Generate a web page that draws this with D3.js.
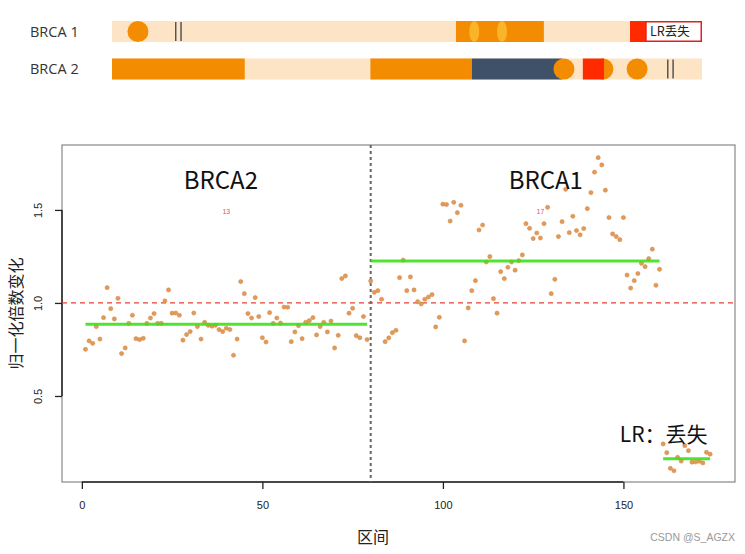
<!DOCTYPE html>
<html><head><meta charset="utf-8">
<script src="https://cdn.jsdelivr.net/npm/d3@7/dist/d3.min.js"></script>
<style>body{margin:0;background:#fff}svg{display:block}</style>
</head><body>
<svg id="c" width="745" height="554"></svg>
<script>
// ---- data ----
const brca2Vals = [0.751,0.796,0.783,0.873,0.806,0.921,1.082,0.969,0.914,1.025,0.728,0.758,0.89,0.934,0.808,0.803,0.81,0.89,0.919,0.943,0.89,0.89,1.011,1.07,0.945,0.946,0.934,0.80,0.83,0.846,0.946,0.873,0.806,0.896,0.88,0.875,0.88,0.857,0.846,0.864,0.857,0.719,0.806,1.115,1.05,0.943,0.919,1.029,0.927,0.813,0.79,0.948,0.89,0.919,0.892,0.978,0.977,0.792,0.844,0.878,0.808,0.896,0.905,0.921,0.828,0.873,0.896,0.844,0.903,0.758,0.826,1.131,1.145,0.945,0.971,0.824,0.813,0.927,0.803];
const brca1Vals = [1.118,1.057,1.066,1.02,0.792,0.812,0.84,0.853,1.136,1.23,1.066,1.14,1.07,1.007,0.995,1.02,1.032,1.045,0.871,0.923,1.531,1.529,1.44,1.541,1.485,1.525,0.796,0.973,1.066,1.12,1.392,1.419,1.22,1.249,1.023,0.945,1.168,1.131,1.192,1.22,1.176,1.227,1.258,1.426,1.401,1.346,1.376,1.349,1.426,1.514,1.05,1.127,1.357,1.437,1.611,1.378,1.466,1.389,1.366,1.4,1.507,1.593,1.703,1.781,1.742,1.606,1.459,1.371,1.357,1.34,1.459,1.15,1.08,1.12,1.158,1.213,1.195,1.238,1.289,1.095,1.181];
const lrVals = [0.242,0.195,0.111,0.098,0.17,0.15,0.233,0.206,0.144,0.145,0.149,0.14,0.197,0.187];
const segStart = [1, 80, 161];
const segEnd = [79, 160, 174];
const segMean = [0.885, 1.225, 0.163];
const regionLabels = ["BRCA2", "BRCA1", "LR：丢失"];
const regionLabelPos = [[38.5, 1.615], [128.5, 1.615], [149, 0.25]];
const smallLabels = ["13", "17"];
const smallLabelPos = [[40, 1.49], [127, 1.49]];
const xTicks = [0, 50, 100, 150];
const yTicks = [0.5, 1.0, 1.5];
const boundary = 80;
const refLine = 1.0;

// top diagram data (gene coordinates 0..100 along the bar)
const geneNames = ["BRCA 1", "BRCA 2"];
const geneRects = [
  [ {a:0,b:100,t:"bg"}, {a:58.3,b:73.2,t:"orange"}, {a:87.8,b:90.5,t:"red"} ],
  [ {a:0,b:100,t:"bg"}, {a:0,b:22.5,t:"orange"}, {a:43.8,b:61.0,t:"orange"}, {a:61.0,b:76.3,t:"slate"} ]
];
const geneDots = [
  [ {c:4.4,t:"orange"}, {c:61.4,t:"light",narrow:true}, {c:66.1,t:"light",narrow:true} ],
  [ {c:76.6,t:"orange"}, {c:83.2,t:"orange"}, {c:89.0,t:"orange"} ]
];
const geneRectsTop = [ [], [ {a:79.8,b:83.4,t:"red"} ] ];
const geneBars = [ [10.8, 11.7], [94.2, 95.1] ];
const lossBox = {a:90.5, b:100, text:"LR丢失"};

// ---- drawing ----
const svg = d3.select("#c");
const col = {bg:"#fde4c5", orange:"#f38c00", light:"#fbb42a", red:"#ff2a00", slate:"#3f5069"};

// top diagram
const gx = d3.scaleLinear().domain([0,100]).range([112, 702]);
const rowY = [21, 58.5];
const rowH = 21;
geneNames.forEach((nm, r) => {
  const y0 = rowY[r];
  svg.append("text").attr("x", 30).attr("y", y0 + rowH/2).attr("dy","0.35em")
    .attr("font-family","'Open Sans','Noto Sans',sans-serif").attr("font-size",14.5)
    .attr("fill","#333").text(nm);
  geneRects[r].forEach(d => svg.append("rect").attr("x", gx(d.a)).attr("y", y0)
    .attr("width", gx(d.b)-gx(d.a)).attr("height", rowH).attr("fill", col[d.t]));
  geneDots[r].forEach(d => svg.append("ellipse").attr("cx", gx(d.c)).attr("cy", y0+rowH/2)
    .attr("rx", d.narrow ? 5 : 10.5).attr("ry", rowH/2).attr("fill", col[d.t]));
  geneRectsTop[r].forEach(d => svg.append("rect").attr("x", gx(d.a)).attr("y", y0)
    .attr("width", gx(d.b)-gx(d.a)).attr("height", rowH).attr("fill", col[d.t]));
  geneBars[r].forEach(p => svg.append("line").attr("x1", gx(p)).attr("x2", gx(p))
    .attr("y1", y0+1).attr("y2", y0+rowH-1).attr("stroke","#555").attr("stroke-width",1.5));
  if (r === 0) {
    svg.append("rect").attr("x", gx(lossBox.a)).attr("y", y0+0.75)
      .attr("width", gx(lossBox.b)-gx(lossBox.a)-0.75).attr("height", rowH-1.5)
      .attr("fill","#fff").attr("stroke","#e0201a").attr("stroke-width",1.5);
    svg.append("text").attr("x", gx(lossBox.a)+4).attr("y", y0+rowH/2).attr("dy","0.36em")
      .attr("font-family","'Noto Sans CJK SC',sans-serif").attr("font-size",12.5)
      .attr("fill","#222").text(lossBox.text);
  }
});

// scatter
const L = 62, R = 735, T = 145, B = 482;
const x = d3.scaleLinear().domain([-5.5, 180.9]).range([L, R]);
const y = d3.scaleLinear().domain([0.0376, 1.849]).range([B, T]);

svg.append("rect").attr("x", L).attr("y", T).attr("width", R-L).attr("height", B-T)
  .attr("fill","none").attr("stroke","#888").attr("stroke-width",1.2);

// axes
const xAxis = d3.axisBottom(x).tickValues(xTicks).tickSize(7).tickFormat(d3.format("d"));
const gxA = svg.append("g").attr("transform", `translate(0,${B})`).call(xAxis);
gxA.select(".domain").attr("d", `M${x(xTicks[0])},0H${x(xTicks[xTicks.length-1])}`)
  .attr("stroke","#222").attr("stroke-width",1.5);
gxA.selectAll(".tick line").attr("stroke","#222").attr("stroke-width",1.3);
gxA.selectAll(".tick text").attr("y", 19).attr("font-size",11)
  .attr("font-family","'Liberation Sans',Arial,sans-serif").attr("fill","#222");

const yAxis = d3.axisLeft(y).tickValues(yTicks).tickSize(7).tickFormat(d3.format(".1f"));
const gyA = svg.append("g").attr("transform", `translate(${L},0)`).call(yAxis);
gyA.select(".domain").attr("d", `M0,${y(yTicks[0])}V${y(yTicks[yTicks.length-1])}`)
  .attr("stroke","#222").attr("stroke-width",1.5);
gyA.selectAll(".tick line").attr("stroke","#222").attr("stroke-width",1.3);
gyA.selectAll(".tick text").attr("x", null).attr("dy", null)
  .attr("text-anchor","middle").attr("transform","translate(-20,0) rotate(-90)")
  .attr("font-size",11).attr("font-family","'Liberation Sans',Arial,sans-serif").attr("fill","#222");

// reference line
svg.append("line").attr("x1", L).attr("x2", R).attr("y1", y(refLine)).attr("y2", y(refLine))
  .attr("stroke","#e8413a").attr("stroke-width",1.3).attr("stroke-dasharray","5,4");
// boundary
svg.append("line").attr("x1", x(boundary)).attr("x2", x(boundary)).attr("y1", T).attr("y2", B)
  .attr("stroke","#666").attr("stroke-width",2).attr("stroke-dasharray","3,3");

// points
const pts = [];
brca2Vals.forEach((v,i) => pts.push([segStart[0]+i, v]));
brca1Vals.forEach((v,i) => pts.push([segStart[1]+i, v]));
lrVals.forEach((v,i) => pts.push([segStart[2]+i, v]));
svg.append("g").selectAll("circle").data(pts).join("circle")
  .attr("cx", d => x(d[0])).attr("cy", d => y(d[1])).attr("r", 2.1)
  .attr("fill","#e39a58").attr("stroke","#cf8440").attr("stroke-width",0.5);

// segment means
segMean.forEach((m,i) => svg.append("line")
  .attr("x1", x(segStart[i])).attr("x2", x(segEnd[i])).attr("y1", y(m)).attr("y2", y(m))
  .attr("stroke","#3ee01c").attr("stroke-width",3).attr("stroke-opacity",0.9));

// labels
regionLabels.forEach((t,i) => svg.append("text")
  .attr("x", x(regionLabelPos[i][0])).attr("y", y(regionLabelPos[i][1]))
  .attr("text-anchor", i===2 ? "start" : "middle")
  .attr("font-family","'Noto Sans CJK SC','Open Sans',sans-serif")
  .attr("font-size", i===2 ? 21 : 24).attr("fill","#111").text(t));
smallLabels.forEach((t,i) => svg.append("text")
  .attr("x", x(smallLabelPos[i][0])).attr("y", y(smallLabelPos[i][1])).attr("dy","0.35em")
  .attr("text-anchor","middle").attr("font-family","'Liberation Sans',Arial,sans-serif")
  .attr("font-size",7).attr("fill","#e8506a").text(t));

svg.append("text").attr("transform", `translate(22,${(T+B)/2}) rotate(-90)`)
  .attr("text-anchor","middle").attr("font-family","'Noto Sans CJK SC',sans-serif")
  .attr("font-size",16).attr("fill","#222").text("归一化倍数变化");
svg.append("text").attr("x", 373).attr("y", 543).attr("text-anchor","middle")
  .attr("font-family","'Noto Sans CJK SC',sans-serif").attr("font-size",16)
  .attr("fill","#222").text("区间");
svg.append("text").attr("x", 735).attr("y", 541).attr("text-anchor","end")
  .attr("font-family","'Liberation Sans',Arial,sans-serif").attr("font-size",10.5)
  .attr("fill","#999").text("CSDN @S_AGZX");
</script>
</body></html>
